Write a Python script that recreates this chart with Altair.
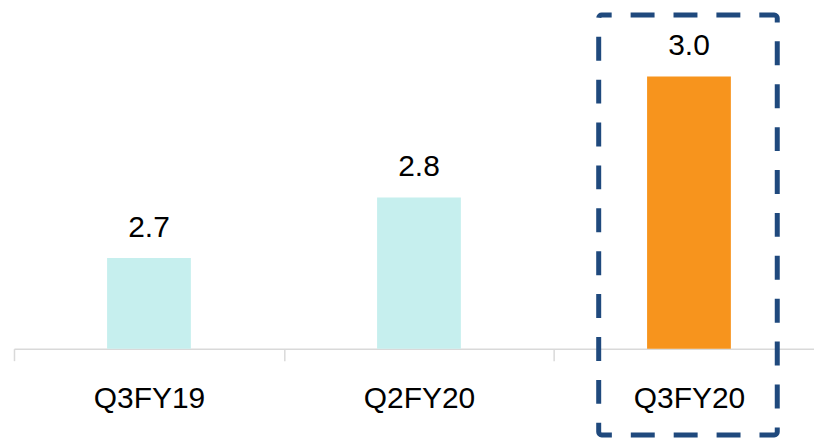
import altair as alt
import pandas as pd

categories = ["Q3FY19", "Q2FY20", "Q3FY20"]
values = [2.7, 2.8, 3.0]
colors = ["#C6EFEE", "#C6EFEE", "#F7941D"]
highlight = ["Q3FY20"]
y_min = 2.55
y_max = 3.104

df = pd.DataFrame({"cat": categories, "val": values, "color": colors})
hl = pd.DataFrame({"cat": highlight})

FONT = "Liberation Sans"

x_enc = alt.X(
    "cat:N",
    sort=categories,
    scale=alt.Scale(paddingInner=0, paddingOuter=0),
    axis=alt.Axis(
        title=None,
        labelAngle=0,
        labelFont=FONT,
        labelFontSize=30,
        labelColor="#000000",
        labelBaseline="alphabetic",
        labelPadding=47,
        tickSize=12,
        tickColor="#D9D9D9",
        tickWidth=1.5,
        domainColor="#D9D9D9",
        domainWidth=1.5,
        tickBand="extent",
        grid=False,
    ),
)
y_enc = alt.Y(
    "val:Q",
    scale=alt.Scale(domain=[y_min, y_max], nice=False, zero=False),
    axis=None,
)

bars = alt.Chart(df).mark_bar(width=84).encode(
    x=x_enc,
    y=y_enc,
    y2=alt.datum(y_min),
    color=alt.Color("color:N", scale=None),
)

labels = alt.Chart(df).mark_text(
    baseline="alphabetic", dy=-21, font=FONT, fontSize=30, color="#000000"
).encode(
    x=alt.X("cat:N", sort=categories),
    y=alt.Y("val:Q"),
    text=alt.Text("val:Q", format=".1f"),
)

box = alt.Chart(hl).mark_bar(
    width=179,
    filled=False,
    stroke="#1F497D",
    strokeWidth=5,
    strokeDash=[24, 19],
    strokeDashOffset=14,
    cornerRadius=3,
    xOffset=-1,
).encode(
    x=alt.X("cat:N", sort=categories),
    y=alt.value(1.5),
    y2=alt.value(422.5),
)

chart = (
    alt.layer(bars, labels, box)
    .properties(width=812, height=336, padding={"left": 5, "top": 4, "right": -11, "bottom": 0})
    .configure_view(stroke=None)
)

chart.save("out.html", embed_options={"renderer": "svg", "actions": False})
